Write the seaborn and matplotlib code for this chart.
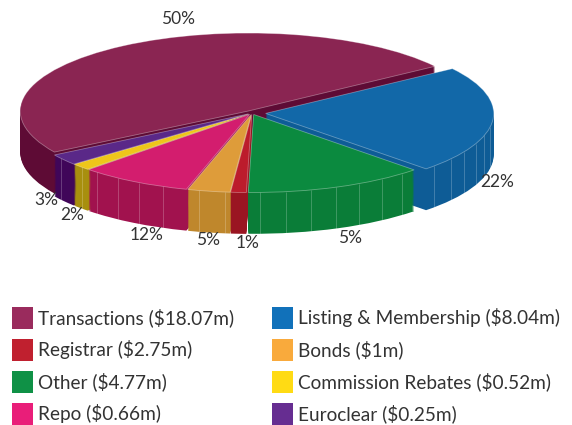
import numpy as np
import matplotlib
matplotlib.use("Agg")
import matplotlib.pyplot as plt
from matplotlib.patches import Patch
import seaborn as sns

# slices, clockwise starting from the top right
slice_names = ["Listing & Membership", "Other", "Registrar", "Bonds", "Repo",
               "Commission Rebates", "Euroclear", "Transactions"]
slice_shares = [22.3, 12.8, 1.1, 3.0, 8.0, 1.4, 2.3, 49.1]
slice_labels = ["22%", "5%", "1%", "5%", "12%", "2%", "3%", "50%"]
top_colors = ["#1268A8", "#0B8A3F", "#BC1C2C", "#DE9C3A", "#D31D6E", "#EEC61A", "#5A2888", "#8A2552"]
side_colors = ["#0E5C96", "#0A7D38", "#9A1522", "#BF872C", "#A1124E", "#A88F0E", "#400659", "#5E0B35"]
explode = [0.06, 0.02, 0.02, 0.02, 0.02, 0.02, 0.02, 0.03]
# pixel nudges for the percentage labels (hand placed in the original)
label_nudge = [(-23, -19), (2, 5), (11, 6), (4, 8), (27, 1), (12, 4), (5, 10), (70, 14)]

# legend, read row by row
legend_names = ["Transactions", "Listing & Membership", "Registrar", "Bonds",
                "Other", "Commission Rebates", "Repo", "Euroclear"]
legend_amounts = ["$18.07m", "$8.04m", "$2.75m", "$1m", "$4.77m", "$0.52m", "$0.66m", "$0.25m"]
legend_colors = ["#9A2B5D", "#1171BA", "#C0202F", "#F9AA3C", "#0F9146", "#FFDB14", "#E91E79", "#662D91"]

sns.set_theme(style="white")
plt.rcParams["font.family"] = ["Lato", "DejaVu Sans"]

fig = plt.figure(figsize=(5.72, 4.25), dpi=100)
ax = fig.add_axes([0, 0, 1, 1])

# fake 3d: stack darker pies downwards, then the top face
thick = 0.53
n_layers = 40
for k in range(n_layers, 0, -1):
    ax.pie(slice_shares, explode=explode, startangle=35, counterclock=False,
           colors=side_colors, center=(0, -thick * k / n_layers),
           wedgeprops=dict(linewidth=0))

wedges, _ = ax.pie(slice_shares, explode=explode, startangle=35, counterclock=False,
                   colors=top_colors,
                   wedgeprops=dict(edgecolor=(1, 1, 1, 0.35), linewidth=0.6))
for w in wedges:
    w.set_zorder(3)

# faint facet lines on the visible (front) side of the small slices
for w in wedges[:-1]:
    lo, hi = sorted((w.theta1, w.theta2))
    for a in np.arange(lo + 3, hi - 1, 6.5):
        r = np.deg2rad(a)
        if np.sin(r) < -0.08:
            x = w.center[0] + np.cos(r)
            y = w.center[1] + np.sin(r)
            ax.vlines(x, y - thick, y, color="white", alpha=0.22, linewidth=0.7, zorder=2)

# percentage labels around the pie
for w, lab, (dx, dy) in zip(wedges, slice_labels, label_nudge):
    mid = np.deg2rad((w.theta1 + w.theta2) / 2)
    x = w.center[0] + 1.12 * np.cos(mid)
    y = w.center[1] + 1.2 * np.sin(mid)
    if np.sin(mid) < 0:
        y -= thick
    ax.annotate(lab, xy=(x, y), xytext=(dx, dy), textcoords="offset pixels",
                ha="center", va="center", fontsize=12.5, color="#333333")

ax.set_aspect("auto")
ax.set_xlim(-252 / 228, (572 - 252) / 228)
ax.set_ylim(-(425 - 113) / 78, 113 / 78)
ax.axis("off")

# legend in two columns (matplotlib fills column by column)
order = [0, 2, 4, 6, 1, 3, 5, 7]
handles = [Patch(facecolor=legend_colors[i], edgecolor="none",
                 label=f"{legend_names[i]} ({legend_amounts[i]})") for i in order]
leg = fig.legend(handles=handles, loc="upper left", bbox_to_anchor=(12 / 572, 1 - 307 / 425),
                 ncol=2, frameon=False, fontsize=13.7, handlelength=1.1, handleheight=1.4,
                 handletextpad=0.27, columnspacing=2.0, labelspacing=0.52,
                 borderpad=0, borderaxespad=0)
for t in leg.get_texts():
    t.set_color("#333333")

fig.savefig("out.png", dpi=100)
